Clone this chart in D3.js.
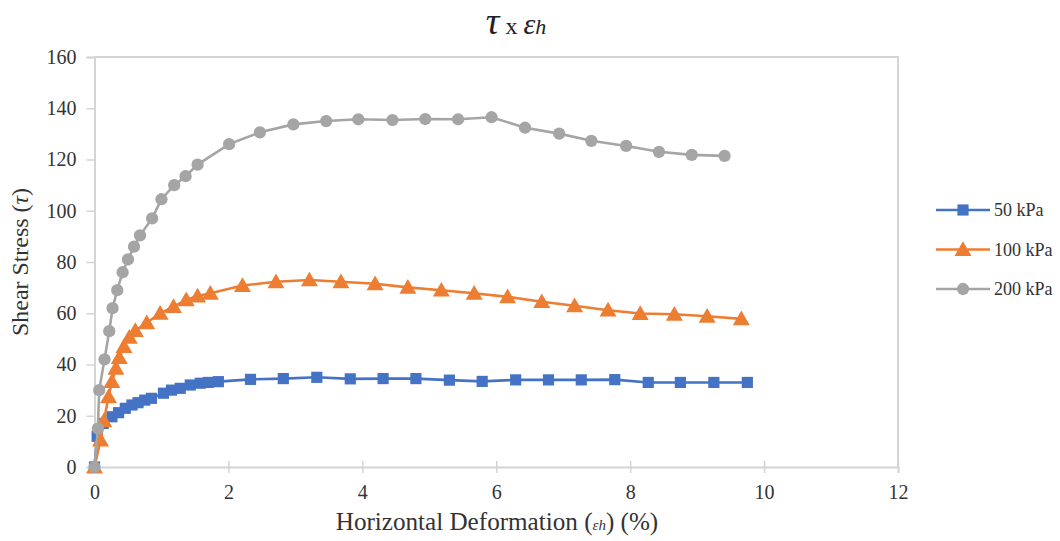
<!DOCTYPE html>
<html><head><meta charset="utf-8">
<script src="https://cdn.jsdelivr.net/npm/d3@7/dist/d3.min.js"></script>
<style>body{margin:0;background:#fff;}</style>
</head><body><svg id="c" width="1060" height="541" font-family="'Liberation Serif'"></svg>
<script>
const xTicks = [0,2,4,6,8,10,12];
const yTicks = [0,20,40,60,80,100,120,140,160];
const seriesNames = ["50 kPa","100 kPa","200 kPa"];
const seriesColors = ["#4472C4","#ED7D31","#A5A5A5"];
const s50 = [[0,0],[0.04,12],[0.13,17],[0.26,19.6],[0.36,21.2],[0.46,22.9],[0.56,24.2],[0.65,25.1],[0.75,26.1],[0.85,26.8],[1.03,28.8],[1.15,30],[1.28,30.7],[1.43,32],[1.58,32.7],[1.7,33],[1.85,33.3],[2.33,34.2],[2.82,34.5],[3.32,35],[3.82,34.4],[4.31,34.5],[4.8,34.5],[5.3,33.9],[5.79,33.4],[6.29,34],[6.78,34],[7.27,34],[7.77,34.1],[8.27,33],[8.75,33],[9.25,33],[9.75,33]];
const s100 = [[0,0],[0.09,10.5],[0.14,18],[0.21,27.4],[0.26,33.3],[0.32,38.5],[0.37,42.7],[0.44,47],[0.52,50.6],[0.61,53.2],[0.78,56.3],[0.98,60],[1.18,62.6],[1.37,65.2],[1.54,66.7],[1.73,67.8],[2.21,70.8],[2.71,72.3],[3.21,73],[3.68,72.3],[4.19,71.5],[4.68,70.1],[5.18,69],[5.67,67.8],[6.17,66.4],[6.68,64.5],[7.17,62.9],[7.67,61.2],[8.15,59.9],[8.66,59.6],[9.15,58.8],[9.66,57.8]];
const s200 = [[0,0],[0.05,15],[0.07,30],[0.15,42],[0.22,53],[0.27,62],[0.34,69],[0.42,76],[0.5,81],[0.59,86],[0.68,90.4],[0.86,97],[1.0,104.5],[1.19,110],[1.36,113.5],[1.54,118],[2.01,126],[2.47,130.6],[2.97,133.7],[3.46,135],[3.94,135.7],[4.45,135.4],[4.94,135.8],[5.43,135.7],[5.93,136.5],[6.43,132.4],[6.94,130.1],[7.42,127.3],[7.94,125.3],[8.43,123],[8.92,121.8],[9.41,121.4]];
const allSeries = [s50, s100, s200];
const markers = [d3.symbolSquare, d3.symbolTriangle, d3.symbolCircle];
const markerSizes = [125, 125, 118];
const FONT = "'Liberation Serif'";

const svg = d3.select("#c");
const L = 94.5, R = 898, T = 57, B = 467;
const x = d3.scaleLinear().domain([0,12]).range([L,R]);
const y = d3.scaleLinear().domain([0,160]).range([B,T]);
const axisColor = "#d4d4d4", textColor = "#333";

function fit(sel, w){
  let fs = parseFloat(sel.attr("font-size"));
  const cur = sel.node().getComputedTextLength();
  if (cur > 0) sel.attr("font-size", (fs * w / cur).toFixed(2));
}

svg.append("path").attr("d",`M${L},${T}H${R}V${B}`).attr("fill","none").attr("stroke",axisColor).attr("stroke-width",2);

const yAxis = svg.append("g").attr("transform",`translate(${L},0)`)
  .call(d3.axisLeft(y).tickValues(yTicks).tickSize(8).tickPadding(10).tickFormat(d3.format("d")));
const xAxis = svg.append("g").attr("transform",`translate(0,${B})`)
  .call(d3.axisBottom(x).tickValues(xTicks).tickSize(6).tickPadding(12).tickFormat(d3.format("d")));
[yAxis,xAxis].forEach(a=>{
  a.attr("font-family",FONT).attr("font-size",20);
  a.select(".domain").attr("stroke",axisColor).attr("stroke-width",2);
  a.selectAll(".tick line").attr("stroke",axisColor).attr("stroke-width",1.5);
  a.selectAll(".tick text").attr("fill",textColor).attr("font-family",FONT).attr("font-size",20);
});
xAxis.selectAll(".tick line").attr("y1",-6);

const line = d3.line().x(d=>x(d[0])).y(d=>y(d[1]));
allSeries.forEach((s,i)=>{
  const g = svg.append("g");
  g.append("path").datum(s).attr("d",line).attr("fill","none").attr("stroke",seriesColors[i]).attr("stroke-width",2.6);
  g.selectAll("path.m").data(s).enter().append("path").attr("class","m")
    .attr("transform",d=>`translate(${x(d[0])},${y(d[1]) + (i===1?1.5:0)})`)
    .attr("d",d3.symbol().type(markers[i]).size(markerSizes[i])).attr("fill",seriesColors[i]);
});

// title
const title = svg.append("text").attr("x",516).attr("y",34).attr("text-anchor","middle").attr("fill","#222").attr("font-family",FONT).attr("font-size",24);
title.append("tspan").attr("font-style","italic").attr("font-size",38).text("τ");
title.append("tspan").attr("font-size",24).text(" x ");
title.append("tspan").attr("font-style","italic").attr("font-size",30).text("ε");
title.append("tspan").attr("font-style","italic").attr("font-size",22).text("h");

// axis titles
const yl = svg.append("text").attr("transform","translate(28,262) rotate(-90)").attr("text-anchor","middle").attr("fill",textColor).attr("font-family",FONT).attr("font-size",20);
yl.append("tspan").text("Shear Stress (");
yl.append("tspan").attr("font-style","italic").text("τ");
yl.append("tspan").text(")");
fit(yl, 148);
const xl = svg.append("text").attr("x",497).attr("y",530).attr("text-anchor","middle").attr("fill",textColor).attr("font-family",FONT).attr("font-size",20);
xl.append("tspan").text("Horizontal Deformation (");
xl.append("tspan").attr("font-style","italic").attr("font-size",15).text("εh");
xl.append("tspan").text(") (%)");
fit(xl, 326);

// legend
const lg = svg.append("g");
seriesNames.forEach((n,i)=>{
  const yy = 210 + i*39.5;
  lg.append("line").attr("x1",936).attr("x2",990).attr("y1",yy).attr("y2",yy).attr("stroke",seriesColors[i]).attr("stroke-width",2.6);
  lg.append("path").attr("transform",`translate(963,${yy + (i===1?1.5:0)})`).attr("d",d3.symbol().type(markers[i]).size(markerSizes[i])).attr("fill",seriesColors[i]);
  lg.append("text").attr("x",994).attr("y",yy+6).attr("fill",textColor).attr("font-family",FONT).attr("font-size",18).text(n);
});
</script></body></html>
